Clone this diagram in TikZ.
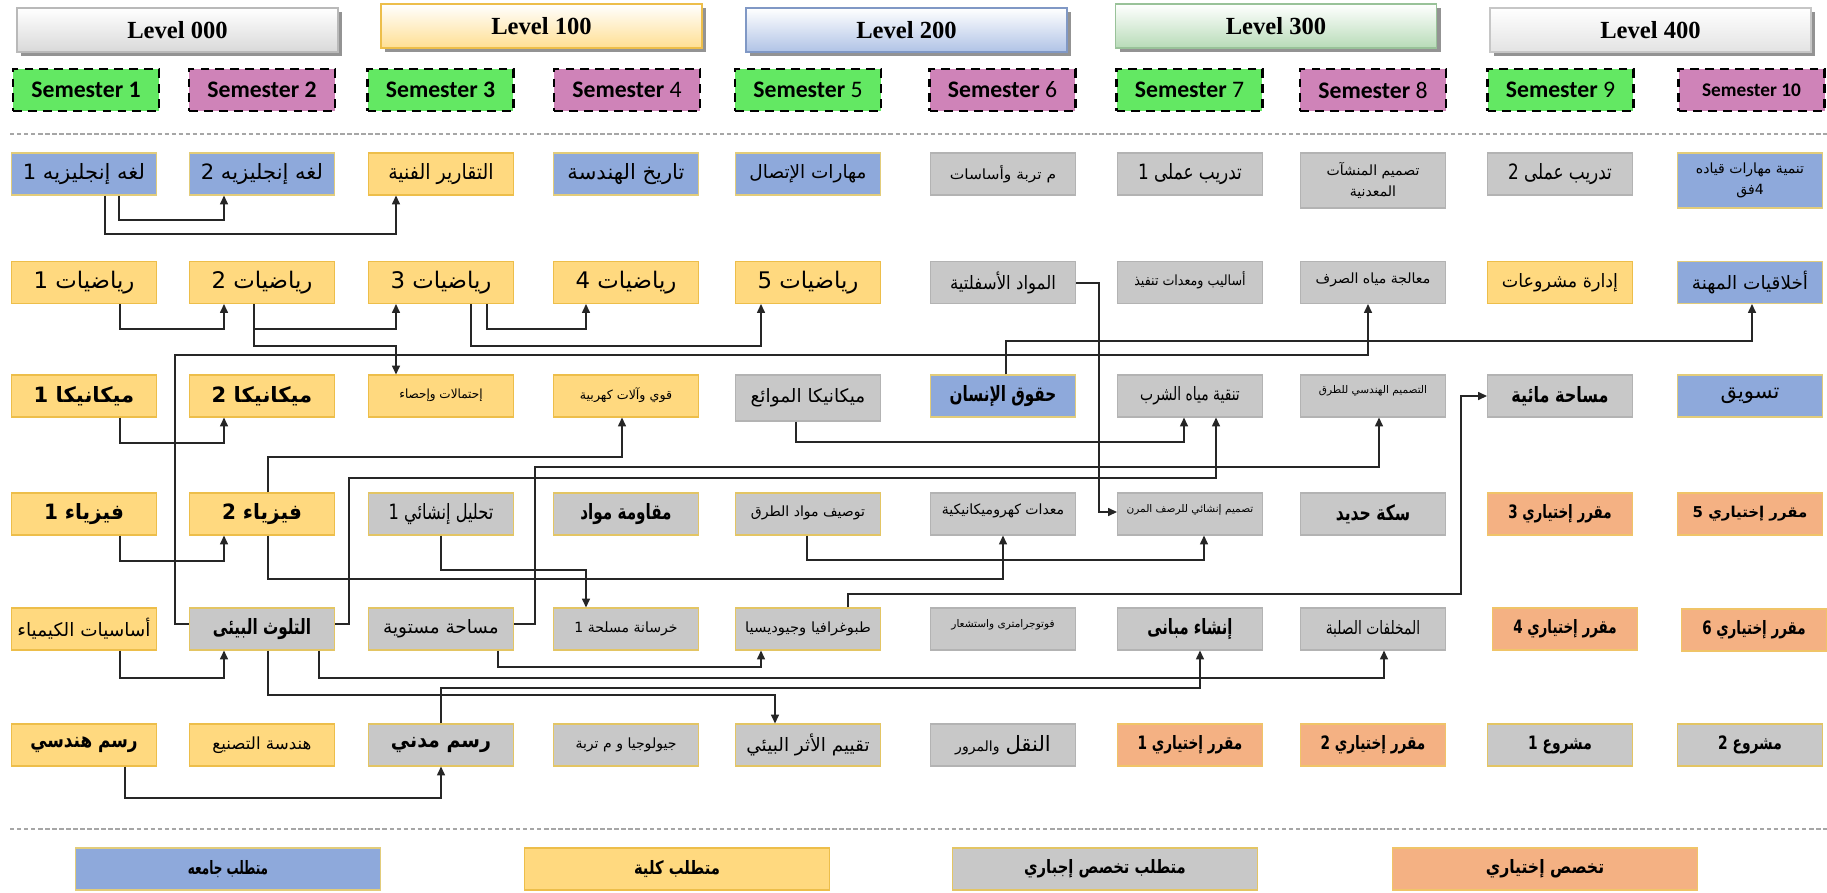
\documentclass[tikz,border=0pt]{standalone}
\usepackage{graphicx}
\usepackage{fontspec}
\setmainfont{Liberation Serif}
\newfontfamily\arabicfont[Script=Arabic]{DejaVu Sans}
\newfontfamily\semfont{Carlito}
\TeXXeTstate=1
\usetikzlibrary{arrows.meta,shadows}
\newcommand{\artxt}[2][1]{\scalebox{#1}[1]{\arabicfont\beginR #2\endR}}
\newcommand{\arbold}[2][0.73]{\scalebox{#1}[1]{\arabicfont\bfseries\beginR #2\endR}}
\newcommand{\fA}{\fontsize{12}{14}\selectfont}
\newcommand{\fAA}{\fontsize{13}{15}\selectfont}
\newcommand{\fB}{\fontsize{10.5}{12}\selectfont}
\newcommand{\fBB}{\fontsize{9.5}{11}\selectfont}
\newcommand{\fC}{\fontsize{8}{10}\selectfont}
\newcommand{\fCC}{\fontsize{7.2}{9}\selectfont}
\newcommand{\fD}{\fontsize{6}{7.5}\selectfont}
\definecolor{unifill}{HTML}{8EA9DB}
\definecolor{unidraw}{HTML}{E2CC7A}
\definecolor{colfill}{HTML}{FFD97F}
\definecolor{coldraw}{HTML}{EDBE4A}
\definecolor{majfill}{HTML}{C8C8C8}
\definecolor{majdraw}{HTML}{B3B3B3}
\definecolor{majydraw}{HTML}{E3C564}
\definecolor{elefill}{HTML}{F4B183}
\definecolor{eledraw}{HTML}{F0C468}
\definecolor{semgreen}{HTML}{63E863}
\definecolor{sempink}{HTML}{CF83B8}
\begin{document}
\begin{tikzpicture}[x=0.02cm,y=-0.02cm,
  cbox/.style={rectangle, minimum width=2.9cm, minimum height=0.84cm, inner sep=1pt, line width=0.6pt, align=center, font=\fB},
  uni/.style={cbox, fill=unifill, draw=unidraw},
  col/.style={cbox, fill=colfill, draw=coldraw},
  maj/.style={cbox, fill=majfill, draw=majdraw},
  majy/.style={cbox, fill=majfill, draw=majydraw},
  ele/.style={cbox, fill=elefill, draw=eledraw},
  lvl/.style={rectangle, minimum width=6.42cm, minimum height=0.88cm, line width=0.8pt, font=\bfseries\fontsize{14}{16}\selectfont, drop shadow={shadow xshift=2.5pt, shadow yshift=-2.5pt, fill=black!60, opacity=0.7}},
  sem/.style={rectangle, minimum width=2.92cm, minimum height=0.84cm, draw=black, line width=1.3pt, dash pattern=on 5pt off 3.5pt, font=\semfont\fontsize{13.5}{15}\selectfont},
  leg/.style={rectangle, minimum width=6.1cm, minimum height=0.84cm, line width=0.6pt, font=\fB},
  conn/.style={line width=0.75pt, draw=black!85},
  arr/.style={conn, -{Triangle[length=5pt,width=4.5pt]}},
  sep/.style={draw=gray!70, line width=0.8pt, dash pattern=on 2.5pt off 1.5pt}
]
\useasboundingbox (0,0) rectangle (1827,893);
\fill[white] (0,0) rectangle (1827,893);

% ---------- levels ----------
\node[lvl, top color=white, bottom color=gray!30, draw=gray!55] (L0) at (177.5,30) {Level 000};
\node[lvl, top color=white, bottom color=colfill!85, draw=coldraw] (L1) at (541.5,26) {Level 100};
\node[lvl, top color=white, bottom color=unifill!70, draw=unifill!90!black] (L2) at (906.5,30) {Level 200};
\node[lvl, top color=white, bottom color=green!50!black!28!white, draw=green!40!black!40] (L3) at (1276,26) {Level 300};
\node[lvl, top color=white, bottom color=gray!22, draw=gray!45] (L4) at (1650.5,30) {Level 400};

% ---------- semesters ----------
\node[sem, fill=semgreen] (S1) at (86,90) {\bfseries Semester 1};
\node[sem, fill=sempink] (S2) at (262,90) {\bfseries Semester 2};
\node[sem, fill=semgreen] (S3) at (440.5,90) {\bfseries Semester 3};
\node[sem, fill=sempink] (S4) at (627,90) {{\bfseries Semester} 4};
\node[sem, fill=semgreen] (S5) at (808,90) {{\bfseries Semester} 5};
\node[sem, fill=sempink] (S6) at (1002.5,90) {{\bfseries Semester} 6};
\node[sem, fill=semgreen] (S7) at (1189.5,90) {{\bfseries Semester} 7};
\node[sem, fill=sempink] (S8) at (1373,90) {{\bfseries Semester} 8};
\node[sem, fill=semgreen] (S9) at (1560.5,90) {{\bfseries Semester} 9};
\node[sem, fill=sempink, font=\semfont\fontsize{11}{13}\selectfont] (S10) at (1751.5,90) {\bfseries Semester 10};

% separators
\draw[sep] (10,134) -- (1827,134);
\draw[sep] (10,829) -- (1827,829);

% ---------- row 1 ----------
\node[uni, font=\fA] (r1c1) at (84,174) {\artxt{لغه إنجليزيه 1}};
\node[uni, font=\fA] (r1c2) at (262,174) {\artxt{لغه إنجليزيه 2}};
\node[col, font=\fA] (r1c3) at (441,174) {\artxt[0.9]{التقارير الفنية}};
\node[uni, font=\fA] (r1c4) at (626,174) {\artxt{تاريخ الهندسة}};
\node[uni] (r1c5) at (808,174) {\artxt{مهارات الإتصال}};
\node[maj, font=\fC] (r1c6) at (1003,174) {\artxt[1.1]{م تربة وأساسات}};
\node[maj, font=\fA] (r1c7) at (1190,174) {\artxt[0.8]{تدريب عملى 1}};
\node[maj, font=\fC, minimum height=1.1cm] (r1c8) at (1373,180.5) {\artxt{تصميم المنشآت}\\[2pt]\artxt{المعدنية}};
\node[maj, font=\fA] (r1c9) at (1560,174) {\artxt[0.8]{تدريب عملى 2}};
\node[uni, font=\fC, minimum height=1.1cm] (r1c10) at (1750,180.5) {\artxt{تنمية مهارات قياده}\\[2pt]\artxt{4فق}};

% ---------- row 2 ----------
\node[col, font=\fAA] (r2c1) at (84,282.5) {\artxt{رياضيات 1}};
\node[col, font=\fAA] (r2c2) at (262,282.5) {\artxt{رياضيات 2}};
\node[col, font=\fAA] (r2c3) at (441,282.5) {\artxt{رياضيات 3}};
\node[col, font=\fAA] (r2c4) at (626,282.5) {\artxt{رياضيات 4}};
\node[col, font=\fAA] (r2c5) at (808,282.5) {\artxt{رياضيات 5}};
\node[maj] (r2c6) at (1003,282.5) {\artxt[0.9]{المواد الأسفلتية}};
\node[maj, font=\fC] (r2c7) at (1190,282.5) {\raisebox{5pt}{\artxt[0.9]{أساليب ومعدات تنفيذ}}};
\node[maj, font=\fC] (r2c8) at (1373,282.5) {\raisebox{5pt}{\artxt{معالجة مياه الصرف}}};
\node[col] (r2c9) at (1560,282.5) {\artxt[0.95]{إدارة مشروعات}};
\node[uni] (r2c10) at (1750,282.5) {\artxt{أخلاقيات المهنة}};

% ---------- row 3 ----------
\node[col, font=\fA] (r3c1) at (84,396) {\arbold[1]{ميكانيكا 1}};
\node[col, font=\fA] (r3c2) at (262,396) {\arbold[1]{ميكانيكا 2}};
\node[col, font=\fCC] (r3c3) at (441,396) {\raisebox{3pt}{\artxt[0.95]{إحتمالات وإحصاء}}};
\node[col, font=\fCC] (r3c4) at (626,396) {\raisebox{3pt}{\artxt{قوي وآلات كهربية}}};
\node[maj, minimum height=0.92cm] (r3c5) at (808,398) {\artxt{ميكانيكا الموائع}};
\node[uni, font=\fA] (r3c6) at (1003,396) {\arbold[0.72]{حقوق الإنسان}};
\node[maj] (r3c7) at (1190,396) {\artxt[0.75]{تنقية مياه الشرب}};
\node[maj, font=\fD] (r3c8) at (1373,396) {\raisebox{7pt}{\artxt{التصميم الهندسي للطرق}}};
\node[maj, font=\fA] (r3c9) at (1560,396) {\arbold[0.76]{مساحة مائية}};
\node[uni, font=\fA] (r3c10) at (1750,396) {\artxt{تسويق}};

% ---------- row 4 ----------
\node[col, font=\fA] (r4c1) at (84,514) {\arbold[0.95]{فيزياء 1}};
\node[col, font=\fA] (r4c2) at (262,514) {\arbold[0.95]{فيزياء 2}};
\node[majy, font=\fA] (r4c3) at (441,514) {\artxt[0.77]{تحليل إنشائي 1}};
\node[majy, font=\fA] (r4c4) at (626,514) {\arbold[0.72]{مقاومة مواد}};
\node[majy, font=\fC] (r4c5) at (808,514) {\raisebox{3pt}{\artxt{توصيف مواد الطرق}}};
\node[maj, font=\fC] (r4c6) at (1003,514) {\raisebox{5pt}{\artxt{معدات كهروميكانيكية}}};
\node[maj, font=\fD] (r4c7) at (1190,514) {\raisebox{6pt}{\artxt{تصميم إنشائي للرصف المرن}}};
\node[maj, font=\fA] (r4c8) at (1373,514) {\arbold[0.74]{سكة حديد}};
\node[ele] (r4c9) at (1560,514) {\arbold{مقرر إختياري 3}};
\node[ele, font=\fontsize{8.5}{10}\selectfont] (r4c10) at (1750,514) {\arbold[1]{مقرر إختياري 5}};

% ---------- row 5 ----------
\node[col] (r5c1) at (84,629) {\artxt{أساسيات الكيمياء}};
\node[majy, font=\fA] (r5c2) at (262,629) {\arbold[0.72]{التلوث البيئى}};
\node[majy] (r5c3) at (441,629) {\artxt{مساحة مستوية}};
\node[majy, font=\fC] (r5c4) at (626,629) {\artxt{خرسانة مسلحة 1}};
\node[majy, font=\fC] (r5c5) at (808,629) {\artxt[1.05]{طبوغرافيا وجيوديسيا}};
\node[maj, font=\fD] (r5c6) at (1003,629) {\raisebox{6pt}{\artxt{فوتوجرامترى واستشعار}}};
\node[maj, font=\fA] (r5c7) at (1190,629) {\arbold[0.7]{إنشاء مبانى}};
\node[maj] (r5c8) at (1373,629) {\artxt[0.75]{المخلفات الصلبة}};
\node[ele] (r5c9) at (1565,629) {\arbold{مقرر إختياري 4}};
\node[ele] (r5c10) at (1754,630) {\arbold{مقرر إختياري 6}};

% ---------- row 6 ----------
\node[col, font=\fA] (r6c1) at (84,745) {\arbold[0.8]{رسم هندسي}};
\node[col, font=\fBB] (r6c2) at (262,745) {\artxt{هندسة التصنيع}};
\node[majy, font=\fA] (r6c3) at (441,745) {\arbold[0.9]{رسم مدني}};
\node[majy, font=\fC] (r6c4) at (626,745) {\artxt{جيولوجيا و م تربة}};
\node[majy] (r6c5) at (808,745) {\artxt{تقييم الأثر البيئي}};
\node[maj] (r6c6) at (1003,745) {{\arabicfont\beginR{\fA النقل} {\fC والمرور}\endR}};
\node[ele] (r6c7) at (1190,745) {\arbold[0.74]{مقرر إختياري 1}};
\node[ele] (r6c8) at (1373,745) {\arbold[0.74]{مقرر إختياري 2}};
\node[majy] (r6c9) at (1560,745) {\arbold[0.75]{مشروع 1}};
\node[majy] (r6c10) at (1750,745) {\arbold[0.75]{مشروع 2}};

% ---------- legend ----------
\node[leg, fill=unifill, draw=unidraw] (g1) at (228,869) {\arbold[0.65]{متطلب جامعه}};
\node[leg, fill=colfill, draw=coldraw] (g2) at (677,869) {\arbold[0.8]{متطلب كلية}};
\node[leg, fill=majfill, draw=majydraw] (g3) at (1105,869) {\arbold[0.8]{متطلب تخصص إجباري}};
\node[leg, fill=elefill, draw=eledraw] (g4) at (1545,869) {\arbold[0.85]{تخصص إختياري}};

% ---------- connectors ----------
\draw[arr] (r1c1.south -| 119,0) -- (119,220) -- (224,220) -- (r1c2.south -| 224,0);
\draw[arr] (r1c1.south -| 105,0) -- (105,234) -- (396,234) -- (r1c3.south -| 396,0);
\draw[arr] (r2c1.south -| 120,0) -- (120,329) -- (224,329) -- (r2c2.south -| 224,0);
\draw[arr] (r2c2.south -| 254,0) -- (254,329) -- (396,329) -- (r2c3.south -| 396,0);
\draw[arr] (r2c2.south -| 254,0) -- (254,346) -- (396,346) -- (r3c3.north -| 396,0);
\draw[arr] (r2c3.south -| 487,0) -- (487,329) -- (586,329) -- (r2c4.south -| 586,0);
\draw[arr] (r2c3.south -| 471,0) -- (471,346) -- (761,346) -- (r2c5.south -| 761,0);
\draw[arr] (r2c6.east |- 0,283) -- (1099,283) -- (1099,512) -- (r4c7.west |- 0,512);
\draw[arr] (r3c6.north -| 1006,0) -- (1006,341) -- (1752,341) -- (r2c10.south -| 1752,0);
\draw[arr] (r5c2.west |- 0,624) -- (175,624) -- (175,355) -- (1368,355) -- (r2c8.south -| 1368,0);
\draw[arr] (r3c1.south -| 120,0) -- (120,443) -- (224,443) -- (r3c2.south -| 224,0);
\draw[arr] (r3c5.south -| 796,0) -- (796,442) -- (1184,442) -- (r3c7.south -| 1184,0);
\draw[arr] (r4c2.north -| 268,0) -- (268,457) -- (622,457) -- (r3c4.south -| 622,0);
\draw[arr] (r5c3.east |- 0,624) -- (535,624) -- (535,467) -- (1379,467) -- (r3c8.south -| 1379,0);
\draw[arr] (r5c2.east |- 0,624) -- (349,624) -- (349,478) -- (1216,478) -- (r3c7.south -| 1216,0);
\draw[arr] (r5c5.north -| 848,0) -- (848,594) -- (1461,594) -- (1461,396) -- (r3c9.west |- 0,396);
\draw[arr] (r4c1.south -| 120,0) -- (120,561) -- (224,561) -- (r4c2.south -| 224,0);
\draw[arr] (r4c3.south -| 441,0) -- (441,570) -- (586,570) -- (r5c4.north -| 586,0);
\draw[arr] (r4c2.south -| 268,0) -- (268,579) -- (1003,579) -- (r4c6.south -| 1003,0);
\draw[arr] (r4c5.south -| 807,0) -- (807,560) -- (1204,560) -- (r4c7.south -| 1204,0);
\draw[arr] (r5c1.south -| 120,0) -- (120,678) -- (224,678) -- (r5c2.south -| 224,0);
\draw[arr] (r5c3.south -| 498,0) -- (498,667) -- (761,667) -- (r5c5.south -| 761,0);
\draw[arr] (r5c2.south -| 319,0) -- (319,678) -- (1384,678) -- (r5c8.south -| 1384,0);
\draw[arr] (r6c3.north -| 441,0) -- (441,688) -- (1200,688) -- (r5c7.south -| 1200,0);
\draw[arr] (r5c2.south -| 268,0) -- (268,695) -- (775,695) -- (r6c5.north -| 775,0);
\draw[arr] (r6c1.south -| 125,0) -- (125,798) -- (441,798) -- (r6c3.south -| 441,0);
\end{tikzpicture}
\end{document}
